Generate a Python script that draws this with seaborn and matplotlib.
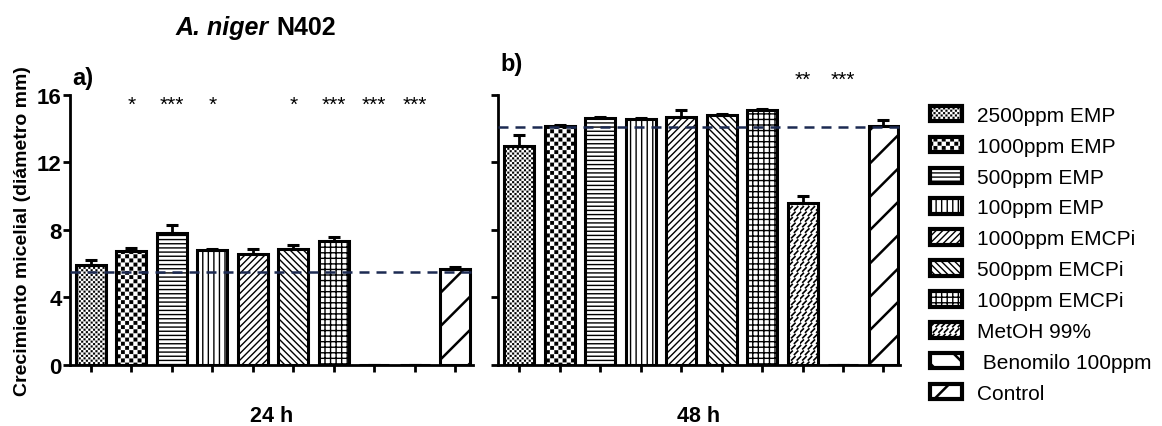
import numpy as np
import pandas as pd
import seaborn as sns
import matplotlib
matplotlib.use("Agg")
import matplotlib.pyplot as plt
import matplotlib.patches as mpatches
import matplotlib.hatch as mhatch
from matplotlib.path import Path

# ---- data ----
tratamientos = ['2500ppm EMP', '1000ppm EMP', '500ppm EMP', '100ppm EMP',
                '1000ppm EMCPi', '500ppm EMCPi', '100ppm EMCPi',
                'MetOH 99%', ' Benomilo 100ppm', 'Control']
crec_24h = [5.93, 6.75, 7.84, 6.81, 6.56, 6.89, 7.37, 0.0, 0.0, 5.67]
err_24h = [0.30, 0.20, 0.43, 0.05, 0.34, 0.22, 0.24, 0.0, 0.0, 0.14]
crec_48h = [13.0, 14.15, 14.64, 14.58, 14.70, 14.80, 15.10, 9.58, 0.0, 14.19]
err_48h = [0.60, 0.06, 0.06, 0.03, 0.40, 0.06, 0.08, 0.44, 0.0, 0.34]
control_24h = 5.53
control_48h = 14.1
sig_24h = ['', '*', '***', '*', '', '*', '***', '***', '***', '']
sig_48h = ['', '', '', '', '', '', '', '**', '***', '']


# custom hatches: 'O' -> checkerboard, 'o' -> short slanted dashes
class Checker(mhatch.HatchPatternBase):
    def __init__(self, hatch, density):
        self.n = 2 * ((hatch.count('O') * density) // 2)
        self.num_vertices = (self.n * self.n // 2) * 5 if self.n else 0

    def set_vertices_and_codes(self, vertices, codes):
        s = 1.0 / self.n
        m = 0.002
        sq = np.array([[m, m], [s - m, m], [s - m, s - m], [m, s - m], [m, m]])
        parts = [sq + [i * s, j * s] for i in range(self.n)
                 for j in range(self.n) if (i + j) % 2 == 0]
        vertices[:] = np.concatenate(parts)
        codes[:] = np.tile([Path.MOVETO, Path.LINETO, Path.LINETO,
                            Path.LINETO, Path.CLOSEPOLY], len(parts))


class SlashDashes(mhatch.HatchPatternBase):
    def __init__(self, hatch, density):
        self.n = hatch.count('o') * density
        self.num_vertices = self.n * (self.n + 1) * 2 if self.n else 0

    def set_vertices_and_codes(self, vertices, codes):
        s = 1.0 / self.n
        d = 0.6 * s
        segs = []
        for r in range(self.n):
            y0 = r * s + 0.2 * s
            for c in range(-1, self.n):
                x0 = c * s + (0.5 * s if r % 2 else 0)
                segs.append([[x0, y0], [x0 + d, y0 + d]])
        vertices[:] = np.array(segs).reshape(-1, 2)
        codes[:] = np.tile([Path.MOVETO, Path.LINETO], len(segs))


mhatch._hatch_types = [t for t in mhatch._hatch_types
                       if t not in (mhatch.LargeCircles, mhatch.SmallCircles)]
mhatch._hatch_types += [Checker, SlashDashes]

tramas = ['OOOOOOO', 'OOOO', '----', '|||', '/////', '\\\\\\\\\\', '+++', 'ooo', '\\', '/']
trama_lw = [0.1, 0.1, 1.0, 1.0, 1.0, 1.0, 1.0, 1.2, 1.8, 1.8]

sns.set_style("ticks")
plt.rcParams['font.family'] = ['Liberation Sans', 'DejaVu Sans']
plt.rcParams['axes.linewidth'] = 2.0
for k in ['text.color', 'axes.labelcolor', 'xtick.color', 'ytick.color', 'axes.edgecolor']:
    plt.rcParams[k] = 'black'

fig = plt.figure(figsize=(11.62, 4.27), dpi=100)
ax1 = fig.add_axes([0.0602, 0.1429, 0.3469, 0.6323])
ax2 = fig.add_axes([0.4286, 0.1429, 0.3460, 0.6323])


def set_hatch_lw(p, lw):
    if hasattr(p, 'set_hatch_linewidth'):
        p.set_hatch_linewidth(lw)
    else:
        p._hatch_linewidth = lw


def panel(ax, valores, errores, ref, sig, sig_y, xlab):
    df = pd.DataFrame({'trat': tratamientos, 'valor': valores})
    sns.barplot(data=df, x='trat', y='valor', ax=ax, color='white', saturation=1,
                edgecolor='black', linewidth=2.2, width=0.74, errorbar=None)
    for p, h, lw in zip(ax.patches, tramas, trama_lw):
        p.set_hatch(h)
        set_hatch_lw(p, lw)
    ax.errorbar(range(len(valores)), valores,
                yerr=[np.zeros(len(errores)), errores], fmt='none',
                ecolor='black', elinewidth=2, capsize=4.3, capthick=2.2, zorder=4)
    ax.axhline(ref, color='#1c2a52', lw=1.8, ls=(0, (4, 2.8)), zorder=6)
    for i, s in enumerate(sig):
        if s:
            ax.text(i, sig_y, s, ha='center', va='center', fontsize=15,
                    clip_on=False)
    ax.set_ylim(0, 16)
    ax.set_yticks([0, 4, 8, 12, 16])
    ax.set_xticks(range(len(valores)))
    ax.set_xticklabels([])
    ax.set_xlabel(xlab, fontsize=15.5, fontweight='bold', labelpad=23)
    ax.tick_params(length=5, width=2, direction='out', labelsize=16, pad=1)
    sns.despine(ax=ax)


panel(ax1, crec_24h, err_24h, control_24h, sig_24h, 15.45, '24 h')
panel(ax2, crec_48h, err_48h, control_48h, sig_48h, 16.95, '48 h')
ax1.set_xlim(-0.52, 9.445)
ax2.set_xlim(-0.527, 9.41)
for t in ax1.get_yticklabels():
    t.set_fontweight('bold')
ax2.set_yticklabels([])
ax1.set_ylabel('Crecimiento micelial (diámetro mm)', fontsize=14,
               fontweight='bold', labelpad=4)
ax2.set_ylabel('')

ax1.text(0.005, 1.065, 'a)', transform=ax1.transAxes, fontsize=17,
         fontweight='bold', va='center', ha='left')
ax2.text(0.005, 1.118, 'b)', transform=ax2.transAxes, fontsize=17,
         fontweight='bold', va='center', ha='left')

# title with italic species name
fig.text(269 / 1162, 0.935, 'A. niger', fontsize=18, fontweight='bold',
         fontstyle='italic', ha='right', va='center')
fig.text(276 / 1162, 0.935, 'N402', fontsize=18, fontweight='bold',
         ha='left', va='center')

handles = [mpatches.Patch(facecolor='white', edgecolor='black', linewidth=3,
                          hatch=h) for h in tramas]
leg = fig.legend(handles, tratamientos, loc='upper left',
                 bbox_to_anchor=(0.8003, 0.750), frameon=False, fontsize=15,
                 handlelength=1.54, handleheight=0.77, handletextpad=0.72,
                 labelspacing=0.57, borderpad=0, borderaxespad=0)
for p, lw in zip(leg.get_patches(), trama_lw):
    set_hatch_lw(p, lw)

fig.savefig('out.png', dpi=100)
